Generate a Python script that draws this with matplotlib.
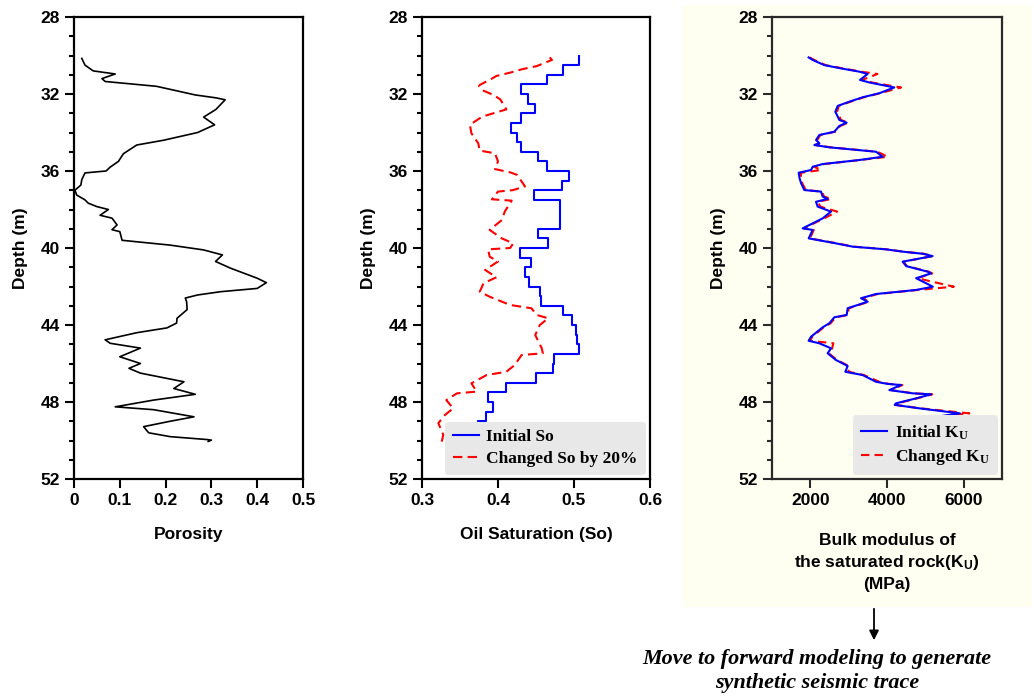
import numpy as np
import matplotlib.pyplot as plt
from matplotlib.patches import Rectangle, FancyArrowPatch

# ---------------- data ----------------
# porosity log
por_depth = [30.15, 30.5, 30.8, 30.9, 30.96, 31.2, 31.35, 31.6, 32.05, 32.2, 32.3, 32.8, 33.2, 33.6,
             34.0, 34.4, 34.65, 35.1, 35.5, 35.8, 36.0, 36.1, 36.45, 36.73, 37.0, 37.25, 37.5, 37.67,
             37.85, 38.0, 38.3, 38.45, 38.8, 39.05, 39.15, 39.6, 39.85, 40.1, 40.36, 40.7, 41.05,
             41.57, 41.8, 42.1, 42.27, 42.44, 42.6, 42.8, 43.2, 43.65, 43.9, 44.15, 44.4, 44.77,
             44.95, 45.2, 45.65, 46.0, 46.25, 46.5, 46.95, 47.3, 47.6, 47.9, 48.25, 48.4, 48.77,
             49.0, 49.28, 49.6, 49.8, 49.95, 49.98, 50.05]
porosity = [0.017, 0.024, 0.042, 0.072, 0.09, 0.061, 0.068, 0.18, 0.265, 0.31, 0.33, 0.31, 0.283, 0.307,
            0.27, 0.196, 0.137, 0.108, 0.097, 0.079, 0.07, 0.024, 0.017, 0.015, 0.002, 0.006, 0.024, 0.031,
            0.05, 0.075, 0.057, 0.083, 0.094, 0.083, 0.1, 0.105, 0.21, 0.283, 0.324, 0.309, 0.342,
            0.40, 0.42, 0.40, 0.32, 0.27, 0.243, 0.246, 0.247, 0.225, 0.224, 0.203, 0.137, 0.068,
            0.079, 0.145, 0.10, 0.145, 0.12, 0.145, 0.24, 0.218, 0.265, 0.174, 0.09, 0.174, 0.262,
            0.21, 0.152, 0.163, 0.21, 0.29, 0.30, 0.293]

# initial oil saturation (0.5 m steps, value from top of each step)
so_top = [30.05, 30.5, 31.0, 31.5, 32.0, 32.5, 33.0, 33.5, 34.0, 34.5, 35.0, 35.5, 36.0, 36.5, 37.0,
          37.5, 38.0, 38.5, 39.0, 39.5, 40.0, 40.5, 41.0, 41.5, 42.0, 42.5, 43.0, 43.5, 44.0, 44.5,
          45.0, 45.5, 46.0, 46.5, 47.0, 47.5, 48.0, 48.5, 49.0, 49.5, 50.0]
so_init = [0.507, 0.486, 0.464, 0.430, 0.439, 0.449, 0.430, 0.417, 0.425, 0.430, 0.453, 0.465, 0.493,
           0.484, 0.448, 0.482, 0.481, 0.482, 0.453, 0.466, 0.429, 0.443, 0.435, 0.441, 0.455, 0.456,
           0.486, 0.497, 0.503, 0.504, 0.507, 0.474, 0.472, 0.450, 0.411, 0.387, 0.393, 0.384, 0.374,
           0.374, 0.374]

# changed oil saturation
soc_depth = [30.1, 30.23, 30.55, 30.72, 30.89, 31.06, 31.2, 31.53, 31.6, 31.83, 32.05, 32.28, 32.8, 33.0,
             33.18, 33.6, 34.04, 34.56, 34.94, 35.08, 35.5, 35.9, 36.07, 36.2, 36.8, 36.99, 37.07, 37.47,
             37.54, 38.1, 38.55, 39.06, 39.5, 39.76, 40.0, 40.07, 40.45, 40.7, 41.14, 41.52, 41.83,
             42.27, 42.53, 42.96, 43.13, 43.48, 43.65, 44.0, 44.52, 45.2, 45.47, 45.56, 46.08, 46.43,
             46.6, 47.03, 47.46, 47.55, 47.9, 48.33, 48.68, 49.1, 49.7, 50.06]
so_changed = [0.468, 0.471, 0.451, 0.431, 0.416, 0.398, 0.392, 0.376, 0.375, 0.381, 0.394, 0.403, 0.411,
              0.394, 0.379, 0.363, 0.365, 0.374, 0.376, 0.396, 0.40, 0.396, 0.416, 0.425, 0.4355, 0.42,
              0.40, 0.392, 0.418, 0.409, 0.405, 0.389, 0.405, 0.42, 0.416, 0.387, 0.389, 0.40, 0.383,
              0.398, 0.381, 0.376, 0.389, 0.416, 0.444, 0.451, 0.466, 0.455, 0.449, 0.4575, 0.459, 0.431,
              0.422, 0.411, 0.385, 0.365, 0.372, 0.346, 0.332, 0.341, 0.33, 0.3215, 0.328, 0.326]

# bulk modulus of saturated rock (MPa)
ku_depth = [30.1, 30.23, 30.5, 30.67, 30.84, 30.96, 31.27, 31.4, 31.66, 31.96, 32.17, 32.4, 32.62, 32.92,
            33.35, 33.49, 33.66, 33.96, 34.13, 34.39, 34.56, 34.65, 34.77, 35.0, 35.26, 35.43, 35.64,
            35.78, 35.95, 36.09, 36.38, 36.64, 36.99, 37.07, 37.33, 37.45, 37.6, 37.85, 38.11, 38.46,
            38.98, 39.06, 39.5, 39.76, 39.93, 40.07, 40.19, 40.3, 40.42, 40.71, 40.94, 41.23, 41.32,
            41.57, 42.01, 42.18, 42.39, 42.61, 42.79, 42.96, 43.13, 43.48, 43.6, 43.91, 44.12, 44.61,
            44.82, 44.95, 45.21, 45.47, 45.82, 46.13, 46.43, 46.6, 46.95, 47.06, 47.12, 47.38, 47.55,
            47.6, 47.81, 48.07, 48.15, 48.33, 48.59, 48.77, 49.0]
ku_init = [1956, 2060, 2365, 2800, 3278, 3495, 3296, 3540, 4192, 3800, 3365, 3017, 2713, 2652,
           2757, 2947, 2757, 2626, 2235, 2149, 2235, 2104, 2496, 3714, 3886, 3278, 2322,
           2061, 2018, 1695, 1720, 1760, 1843, 2278, 2322, 2450, 2148, 2191, 2539, 2322,
           1800, 2061, 1957, 2670, 3104, 3975, 4409, 4935, 5190, 4409, 4500, 5062, 5150,
           4760, 5196, 4760, 3714, 3322, 3496, 3235, 2974, 2948, 2626, 2496, 2322, 2018,
           1956, 2235, 2539, 2452, 2670, 2974, 2913, 3365, 3714, 4017, 4366, 4061, 4670,
           5150, 4760, 4235, 4200, 4845, 5900, 5283, 4583]
ku_changed = [1980, 2100, 2400, 2850, 3330, 3750, 3350, 3600, 4366, 3820, 3400, 3050, 2740, 2700,
              2800, 2990, 2780, 2650, 2260, 2180, 2260, 2130, 2530, 3750, 4017, 3300, 2350,
              2100, 2280, 1760, 1750, 1790, 1880, 2300, 2360, 2550, 2200, 2260, 2700, 2360,
              1830, 2090, 1990, 2700, 3130, 4000, 4430, 4960, 5200, 4430, 4520, 5090, 5180,
              4790, 5743, 4800, 3760, 3360, 3530, 3270, 3000, 2980, 2660, 2530, 2350, 2050,
              1990, 2600, 2570, 2480, 2700, 3000, 3000, 3400, 3800, 4050, 4400, 4100, 4700,
              5180, 4790, 4270, 4230, 4880, 6148, 5320, 4620]

# ---------------- style ----------------
plt.rcParams['font.family'] = ['Liberation Sans', 'DejaVu Sans']
plt.rcParams['font.weight'] = 'bold'
plt.rcParams['axes.labelweight'] = 'bold'
plt.rcParams['mathtext.fontset'] = 'custom'
plt.rcParams['mathtext.bf'] = 'Liberation Serif:bold'
plt.rcParams['mathtext.sf'] = 'Liberation Sans:bold'

fs = 12.5
W, H = 1034, 696
fig = plt.figure(figsize=(W / 100, H / 100), dpi=100)

# pale yellow panel behind the third track
fig.patches.append(Rectangle((683 / W, 1 - 607 / H), (1032 - 683) / W, (607 - 5) / H,
                             transform=fig.transFigure, facecolor='#FFFFF1', edgecolor='none', zorder=-5))


def make_axes(left, right, spine_color='black'):
    ax = fig.add_axes([left / W, 1 - 479 / H, (right - left) / W, 462 / H])
    ax.set_ylim(52, 28)
    ax.set_yticks(np.arange(28, 53, 4))
    ax.set_yticks(np.arange(28, 53, 1), minor=True)
    ax.tick_params(axis='both', which='major', direction='out', length=6.5, width=1.5,
                   labelsize=fs, right=False, top=False, color=spine_color)
    ax.tick_params(axis='y', which='minor', direction='out', length=3.5, width=1.5, color=spine_color)
    ax.tick_params(axis='x', which='minor', bottom=False)
    for s in ax.spines.values():
        s.set_linewidth(1.6)
        s.set_color(spine_color)
    ax.set_ylabel('Depth (m)', fontsize=fs, labelpad=9)
    return ax


legend_kw = dict(loc='lower right', prop={'family': 'Liberation Serif', 'weight': 'bold', 'size': 12.5},
                 frameon=True, fancybox=True, facecolor='#E8E8E8', edgecolor='none', framealpha=1,
                 borderaxespad=0.25, handlelength=1.5, handletextpad=0.45, borderpad=0.45, labelspacing=0.3)

# ---- porosity ----
ax1 = make_axes(74, 303)
ax1.plot(porosity, por_depth, color='black', lw=1.2)
ax1.set_xlim(0, 0.5)
ax1.set_xticks([0, 0.1, 0.2, 0.3, 0.4, 0.5])
ax1.set_xticklabels(['0', '0.1', '0.2', '0.3', '0.4', '0.5'])
ax1.set_xlabel('Porosity', fontsize=fs, labelpad=14)

# ---- oil saturation ----
ax2 = make_axes(422, 650)
ax2.plot(so_init, so_top, color='#0000FF', lw=1.5, drawstyle='steps-pre', label='Initial So')
ax2.plot(so_changed, soc_depth, color='#FF0000', lw=1.5, dashes=(4.5, 2.5), label='Changed So by 20%')
ax2.set_xlim(0.3, 0.6)
ax2.set_xticks([0.3, 0.4, 0.5, 0.6])
ax2.set_xlabel('Oil Saturation (So)', fontsize=fs, labelpad=14)
ax2.legend(**legend_kw)

# ---- bulk modulus ----
ax3 = make_axes(772, 1002, spine_color='#2a2a2a')
ax3.set_facecolor('#FFFFF1')
ax3.plot(ku_init, ku_depth, color='#0000FF', lw=1.5, label='Initial $\\mathbf{K_U}$', zorder=3)
ax3.plot(ku_changed, ku_depth, color='#FF0000', lw=1.5, dashes=(4, 2.5), label='Changed $\\mathbf{K_U}$',
         zorder=2)
ax3.set_xlim(1000, 7000)
ax3.set_xticks([2000, 4000, 6000])
ax3.set_xlabel('Bulk modulus of\nthe saturated rock($\\mathsf{K_U}$)\n(MPa)', fontsize=fs,
               labelpad=18, linespacing=1.4)
ax3.legend(**legend_kw)

# arrow and note
fig.patches.append(FancyArrowPatch((874 / W, 1 - 606 / H), (874 / W, 1 - 643 / H),
                                   transform=fig.transFigure, arrowstyle='-|>', mutation_scale=14,
                                   color='black', lw=1.3))
fig.text(817 / W, 1 - 671 / H, 'Move to forward modeling to generate\nsynthetic seismic trace',
         ha='center', va='center', fontsize=15.9, family='Liberation Serif', style='italic',
         weight='bold', linespacing=1.25)

fig.savefig('out.png', dpi=100)
